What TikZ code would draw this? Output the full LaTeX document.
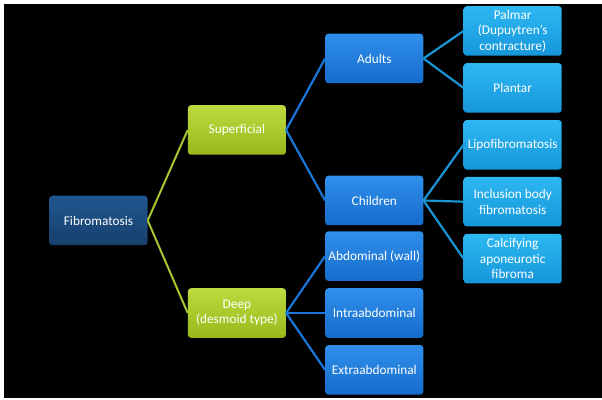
\documentclass[tikz,border=0pt]{standalone}
\usepackage{fontspec}
\setmainfont{Carlito}
\usetikzlibrary{positioning}

\definecolor{roottop}{HTML}{20578F}
\definecolor{rootbot}{HTML}{173F6C}
\definecolor{midtop}{HTML}{BDDB3E}
\definecolor{midbot}{HTML}{98B81C}
\definecolor{subtop}{HTML}{2F8FEA}
\definecolor{subbot}{HTML}{166CCB}
\definecolor{leaftop}{HTML}{2DB8F2}
\definecolor{leafbot}{HTML}{1696DA}
\definecolor{leafgreen}{HTML}{A6C632}
\definecolor{subblue}{HTML}{1A76D8}
\definecolor{leafblue}{HTML}{1CA2E6}

\begin{document}
\begin{tikzpicture}[x=1pt,y=1pt]
  \tikzset{block/.style= {rectangle, rounded corners=3pt, align=center, text=white,
      inner sep=2pt, minimum width=98pt, minimum height=49.5pt,
      font=\fontsize{13.3}{15.5}\selectfont},
    root/.style={block, top color=roottop, bottom color=rootbot},
    mid/.style={block, top color=midtop, bottom color=midbot},
    sub/.style={block, top color=subtop, bottom color=subbot},
    leaf/.style={block, top color=leaftop, bottom color=leafbot},
    gline/.style={draw=leafgreen, line width=2pt},
    bline/.style={draw=subblue, line width=2.2pt},
    lline/.style={draw=leafblue!92!black, line width=2.2pt}}
  \fill[white] (0,0) rectangle (602,399);
  \fill[black] (4,1) rectangle (602,395);

  \node[root] (fib) at (98.5,178.5) {Fibromatosis};
  \node[mid, right=40pt of fib, yshift=90.5pt] (sup) {Superficial};
  \node[mid, right=40pt of fib, yshift=-92.5pt] (deep) {Deep\\(desmoid type)};

  \node[sub, right=39pt of sup, yshift=71.5pt] (adults) {Adults};
  \node[sub, right=39pt of sup, yshift=-70.5pt] (children) {Children};
  \node[sub, right=39pt of deep] (intra) {Intraabdominal};
  \node[sub, above=7pt of intra] (abd) {Abdominal (wall)};
  \node[sub, below=7pt of intra] (extra) {Extraabdominal};

  \node[leaf, right=40pt of adults, yshift=27.5pt] (palmar) {Palmar\\(Dupuytren’s\\contracture)};
  \node[leaf, below=7pt of palmar] (plantar) {Plantar};
  \node[leaf, below=7pt of plantar] (lipo) {Lipofibromatosis};
  \node[leaf, below=7pt of lipo] (incl) {Inclusion body\\fibromatosis};
  \node[leaf, below=7pt of incl] (calc) {Calcifying\\aponeurotic\\fibroma};

  \path[gline] (fib.east) -- (sup.west);
  \path[gline] (fib.east) -- (deep.west);
  \path[bline] (sup.east) -- (adults.west);
  \path[bline] (sup.east) -- (children.west);
  \path[bline] (deep.east) -- (abd.west);
  \path[bline] (deep.east) -- (intra.west);
  \path[bline] (deep.east) -- (extra.west);
  \path[lline] (adults.east) -- (palmar.west);
  \path[lline] (adults.east) -- (plantar.west);
  \path[lline] (children.east) -- (lipo.west);
  \path[lline] (children.east) -- (incl.west);
  \path[lline] (children.east) -- (calc.west);
\end{tikzpicture}
\end{document}
